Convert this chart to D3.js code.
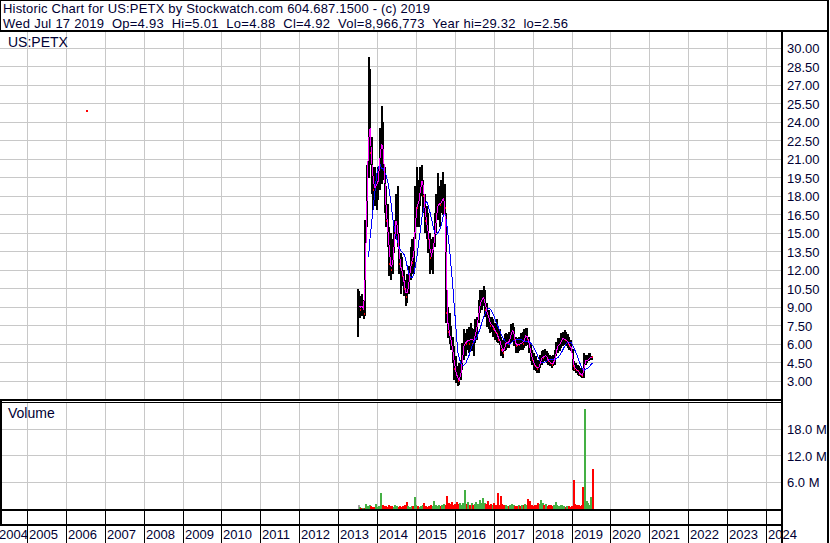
<!DOCTYPE html>
<html>
<head>
<meta charset="utf-8">
<script src="https://cdn.jsdelivr.net/npm/d3@7"></script>
<style>
  body { margin: 0; background: #fff; }
  svg { display: block; font-family: "Liberation Sans", Arial, sans-serif; }
  .txt text { fill: #000033; white-space: pre; }
</style>
</head>
<body>
<svg width="830" height="543"></svg>
<script>
// half-month bars, 2013-06-28 (IPO) .. 2019-07-17
var highs = [10.5,10.3,9.9,10.1,9.6,16.1,20.5,29.32,28.3,22.8,20.4,20.4,19.9,
  20.4,23.5,25.3,24.0,20.4,18.8,17.4,15.5,15.0,14.5,16.1,18.2,18.8,15.0,13.4,13.1,12.0,11.2,11.7,12.3,13.9,14.5,14.7,18.8,
  20.4,19.3,20.4,20.5,19.3,18.2,17.2,16.6,15.0,14.5,14.7,16.6,18.2,19.9,18.8,19.3,20.0,19.0,16.6,9.0,8.5,7.5,6.6,5.8,
  5.0,4.2,4.45,4.7,6.1,7.2,6.9,7.2,7.4,7.7,7.3,7.2,8.0,8.2,9.6,10.4,10.4,10.7,10.4,9.3,8.8,8.2,8.2,8.0,
  7.7,8.0,7.4,7.2,6.6,6.3,6.8,6.9,6.8,7.0,7.6,7.7,7.4,6.6,6.5,6.6,6.9,7.0,7.2,7.3,7.3,6.6,6.1,5.5,
  5.3,5.0,4.7,4.7,5.1,5.4,5.5,5.6,5.4,5.3,5.1,5.0,5.1,5.5,6.2,6.5,6.5,6.9,7.0,7.1,7.0,6.8,6.6,6.3,
  5.6,4.6,4.45,4.3,4.2,4.05,3.9,5.3,5.1,5.1,5.3,5.3,5.01];
var lows = [6.6,8.2,8.1,8.3,8.0,8.3,15.5,19.5,20.5,18.2,16.9,17.2,16.9,
  17.7,18.5,19.0,19.3,16.6,15.5,13.9,11.5,11.2,11.7,13.4,14.5,13.9,11.7,10.1,10.7,9.9,9.1,9.3,10.1,11.2,11.7,11.7,14.5,
  15.5,15.5,17.2,18.0,16.6,15.0,14.5,13.4,11.7,12.0,11.7,13.9,15.0,16.1,15.5,16.6,16.5,16.6,7.7,6.5,6.0,5.5,4.45,3.1,
  2.8,2.56,2.7,3.1,3.9,4.7,5.0,5.5,5.3,5.5,5.4,5.0,6.1,6.3,7.7,8.5,8.8,9.05,8.2,7.4,7.2,6.9,7.0,6.6,
  6.3,6.2,6.1,5.9,5.0,4.9,5.4,5.5,5.7,5.7,6.1,6.2,5.8,5.3,5.3,5.4,5.5,5.5,5.7,5.8,5.9,5.3,4.6,4.3,
  3.9,3.8,3.65,3.65,4.05,4.3,4.45,4.6,4.45,4.3,4.2,4.05,4.2,4.3,5.0,5.3,5.4,5.7,5.8,5.9,5.8,5.7,5.5,5.4,
  3.9,3.8,3.65,3.5,3.37,3.3,3.25,3.25,4.3,4.45,4.6,4.7,4.7];
var closes = [9.0,9.2,8.8,9.3,8.4,15.0,19.5,25.5,21.5,20.0,18.5,18.8,19.0,
  19.5,22.5,22.0,21.5,18.0,16.0,14.5,12.5,12.0,13.0,15.5,16.5,14.5,12.5,12.0,11.5,10.5,9.8,10.5,11.5,13.0,12.6,14.0,17.5,
  17.0,18.0,19.0,19.5,18.0,16.0,15.5,14.5,13.0,13.5,14.0,15.5,17.0,17.5,17.3,17.6,18.0,17.0,8.5,7.0,6.6,6.0,5.0,4.0,
  3.5,3.0,3.2,4.0,5.5,6.2,6.0,6.5,6.0,6.8,6.0,6.5,7.0,7.8,9.0,9.5,9.7,9.8,8.8,8.5,8.0,7.5,7.6,7.2,
  7.0,6.8,6.3,6.2,5.5,5.3,6.0,6.2,6.0,6.5,7.0,7.2,6.3,5.8,6.0,5.9,6.2,6.0,6.5,6.8,6.4,5.8,5.0,4.7,
  4.3,4.1,4.0,4.2,4.7,5.0,4.9,5.2,4.8,4.6,4.5,4.3,4.5,5.0,5.8,5.9,6.0,6.4,6.5,6.3,6.35,6.0,5.8,5.6,
  4.2,4.0,3.9,3.8,3.6,3.5,3.4,4.6,4.65,4.7,4.8,5.0,4.92];
// volume in millions of shares
var volumes = [0.8,0.4,0.3,0.3,0.3,1.2,0.6,0.8,0.7,0.5,0.4,1.2,0.5,
  0.6,3.7,0.9,0.7,0.6,0.5,0.8,0.6,0.7,0.5,0.9,0.6,0.5,0.7,0.5,0.6,0.8,1.6,0.6,0.5,0.7,0.6,2.7,0.8,
  0.6,0.5,0.7,0.9,1.3,0.6,0.5,0.7,0.8,0.6,1.7,0.9,0.7,0.8,0.6,1.0,1.2,0.9,3.0,1.4,1.1,1.5,0.9,1.2,
  1.5,1.1,1.3,1.0,1.4,4.2,1.2,1.6,1.0,1.3,0.9,1.1,1.5,1.2,2.0,1.4,2.5,1.3,1.1,1.7,0.9,1.2,0.8,1.4,
  0.9,3.6,1.0,3.0,1.2,0.8,0.9,0.7,0.6,0.8,1.1,0.9,0.7,0.6,0.8,0.7,1.0,0.8,1.2,0.9,2.3,1.9,0.8,0.7,
  1.0,0.8,1.3,1.1,2.1,1.3,0.9,1.1,0.7,0.8,0.9,0.6,0.8,1.6,1.0,0.7,0.9,0.8,0.6,0.5,0.7,0.6,0.5,0.6,
  6.6,1.2,0.8,1.0,0.7,0.9,5.0,22.6,1.8,1.3,1.0,2.8,8.97];
// one stray print in 2006
var strayDates = ["2006-07-03"], strayPrices = [24.9], strayVolumes = [0.1];

var priceTicks = d3.range(3, 30.01, 1.5);
var volumeTicks = [6, 12, 18];
var years = d3.range(2004, 2025);

// bar dates: IPO day, then the 8th and 23rd of each month, last bar mid July 2019
var dates = [new Date(2013, 5, 28)];
d3.timeMonth.range(new Date(2013, 6, 1), new Date(2019, 6, 1)).forEach(function(m) {
  dates.push(new Date(m.getFullYear(), m.getMonth(), 8));
  dates.push(new Date(m.getFullYear(), m.getMonth(), 23));
});
dates.push(new Date(2019, 6, 12));

var bars = dates.map(function(d, i) {
  return {date: d, high: highs[i], low: lows[i], close: closes[i], volume: volumes[i],
          prev: i > 0 ? closes[i - 1] : closes[i]};
});

function sma(n) {
  return bars.map(function(b, i) {
    if (i < n - 1) return null;
    return {date: b.date, value: d3.mean(closes.slice(i - n + 1, i + 1))};
  }).filter(function(d) { return d; });
}

var svg = d3.select("svg");
var x = d3.scaleTime().domain([new Date(2005, 0, 1), new Date(2024, 0, 1)]).range([27.5, 766.5]);
var yP = d3.scaleLinear().domain([3, 30]).range([381, 48.3]);
var yV = d3.scaleLinear().domain([0, 18]).range([509, 429.3]);

var plotR = 782, priceTop = 32, priceBot = 399, volTop = 403, volBot = 509;

svg.append("defs").append("clipPath").attr("id", "pclip")
  .append("rect").attr("x", 0).attr("y", priceTop).attr("width", plotR).attr("height", priceBot - priceTop);
svg.select("defs").append("clipPath").attr("id", "vclip")
  .append("rect").attr("x", 0).attr("y", volTop).attr("width", plotR).attr("height", volBot - volTop);

var grid = svg.append("g").attr("stroke", "#c8c8c8").attr("stroke-width", 1).attr("shape-rendering", "crispEdges");
years.forEach(function(yr) {
  var gx = Math.floor(x(new Date(yr, 0, 1))) + 0.5;
  if (gx < 0) return;
  grid.append("line").attr("x1", gx).attr("x2", gx).attr("y1", priceTop).attr("y2", priceBot);
  grid.append("line").attr("x1", gx).attr("x2", gx).attr("y1", volTop).attr("y2", volBot);
});
d3.range(1.5, 31.6, 1.5).forEach(function(v) {
  var gy = Math.floor(yP(v)) + 0.5;
  if (gy < priceTop || gy > priceBot) return;
  grid.append("line").attr("x1", 0).attr("x2", plotR).attr("y1", gy).attr("y2", gy);
});
volumeTicks.forEach(function(v) {
  var gy = Math.floor(yV(v)) + 0.5;
  grid.append("line").attr("x1", 0).attr("x2", plotR).attr("y1", gy).attr("y2", gy);
});

// price bars
var pg = svg.append("g").attr("clip-path", "url(#pclip)").attr("shape-rendering", "crispEdges");
pg.selectAll("rect.bar").data(bars).enter().append("rect")
  .attr("class", "bar")
  .attr("x", function(d) { return Math.round(x(d.date)) - 1; })
  .attr("width", 2)
  .attr("y", function(d) { return Math.round(yP(d.high)); })
  .attr("height", function(d) { return Math.max(1, Math.round(yP(d.low)) - Math.round(yP(d.high))); })
  .attr("fill", "#000");
pg.selectAll("rect.tick").data(bars.filter(function(d) { return d.close < d.prev; })).enter().append("rect")
  .attr("class", "tick")
  .attr("x", function(d) { return Math.round(x(d.date)); })
  .attr("width", 1)
  .attr("y", function(d) { return Math.round(yP(d.close)) - 1; })
  .attr("height", 2)
  .attr("fill", "#ff0000");
pg.selectAll("rect.stray").data(strayDates).enter().append("rect")
  .attr("x", function(d) { return Math.round(x(new Date(d))); })
  .attr("y", function(d, i) { return Math.round(yP(strayPrices[i])) - 1; })
  .attr("width", 2).attr("height", 2).attr("fill", "#ff0000");

var line = d3.line().x(function(d) { return x(d.date); }).y(function(d) { return yP(d.value); });
pg.append("path").datum(sma(8)).attr("d", line)
  .attr("fill", "none").attr("stroke", "#0000ff").attr("stroke-width", 1);
pg.append("path").datum(sma(2)).attr("d", line)
  .attr("fill", "none").attr("stroke", "#ff00ff").attr("stroke-width", 1);

// volume bars
var vg = svg.append("g").attr("clip-path", "url(#vclip)").attr("shape-rendering", "crispEdges");
vg.selectAll("rect.vol").data(bars).enter().append("rect")
  .attr("x", function(d) { return Math.round(x(d.date)); })
  .attr("width", 2)
  .attr("y", function(d) { return Math.round(yV(d.volume)); })
  .attr("height", function(d) { return Math.max(1, yV(0) - Math.round(yV(d.volume))); })
  .attr("fill", function(d) { return d.close > d.prev ? "#44b044" : (d.close < d.prev ? "#ff0000" : "#a0a0a0"); });
vg.selectAll("rect.svol").data(strayDates).enter().append("rect")
  .attr("x", function(d) { return Math.round(x(new Date(d))); })
  .attr("width", 1)
  .attr("y", function(d, i) { return Math.round(yV(strayVolumes[i])); })
  .attr("height", function(d, i) { return Math.max(1, yV(0) - Math.round(yV(strayVolumes[i]))); })
  .attr("fill", "#44b044");

// frame
var fr = svg.append("g").attr("stroke", "#000").attr("shape-rendering", "crispEdges");
function ln(x1, y1, x2, y2, w) {
  fr.append("line").attr("x1", x1).attr("y1", y1).attr("x2", x2).attr("y2", y2).attr("stroke-width", w);
}
ln(0, 0.5, 829, 0.5, 1);
ln(0.5, 0, 0.5, 31, 1);
ln(0, 31, 829, 31, 2);
ln(828, 0, 828, 543, 2);
ln(782, 31, 782, 543, 2);
ln(0, 400, 782, 400, 2);
ln(0, 402.5, 782, 402.5, 1);
ln(1, 400, 1, 526, 2);
ln(0, 510, 782, 510, 2);
ln(0, 525, 782, 525, 2);
years.forEach(function(yr) {
  var gx = Math.floor(x(new Date(yr, 0, 1))) + 0.5;
  if (gx < 0) return;
  ln(gx, 510, gx, 543, 1);
});

// text
var tx = svg.append("g").attr("class", "txt").attr("font-size", 13);
tx.append("text").attr("x", 3).attr("y", 13)
  .attr("textLength", 427)
  .text("Historic Chart for US:PETX by Stockwatch.com 604.687.1500 - (c) 2019");
tx.append("text").attr("x", 3).attr("y", 28)
  .attr("xml:space", "preserve").attr("textLength", 565)
  .text("Wed Jul 17 2019  Op=4.93  Hi=5.01  Lo=4.88  Cl=4.92  Vol=8,966,773  Year hi=29.32  lo=2.56");
tx.append("text").attr("x", 8).attr("y", 47).attr("font-size", 14).text("US:PETX");
tx.append("text").attr("x", 8).attr("y", 418).attr("font-size", 14).text("Volume");

tx.selectAll("text.pl").data(priceTicks).enter().append("text")
  .attr("x", 787).attr("y", function(d) { return yP(d) + 5; })
  .text(function(d) { return d3.format(".2f")(d); });
tx.selectAll("text.vl").data(volumeTicks).enter().append("text")
  .attr("x", 787).attr("y", function(d) { return yV(d) + 5; })
  .text(function(d) { return d3.format(".1f")(d) + " M"; });
tx.selectAll("text.yr").data(years).enter().append("text")
  .attr("x", function(d) { return Math.max(-1, Math.floor(x(new Date(d, 0, 1))) + 2); })
  .attr("y", 539)
  .text(function(d) { return d; });
</script>
</body>
</html>
